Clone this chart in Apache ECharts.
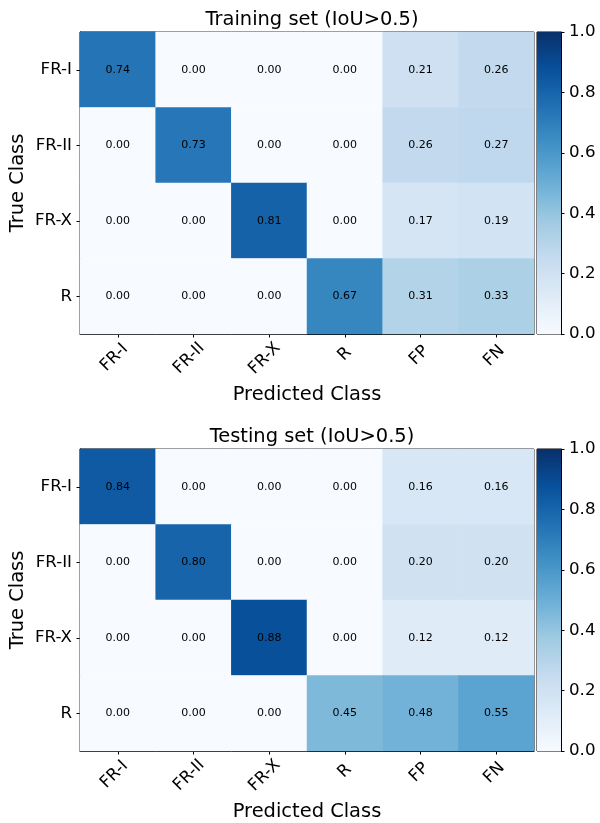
<!DOCTYPE html>
<html>
<head>
<meta charset="utf-8">
<script src="https://cdn.jsdelivr.net/npm/echarts@6/dist/echarts.min.js"></script>
<style>
  html, body { margin: 0; padding: 0; background: #fff; }
  #chart { width: 600px; height: 823px; }
</style>
</head>
<body>
<div id="chart"></div>
<script>
// class names (predicted on x, true on y)
const predClasses = ['FR-I', 'FR-II', 'FR-X', 'R', 'FP', 'FN'];
const trueClasses = ['FR-I', 'FR-II', 'FR-X', 'R'];

// confusion matrices, one row per true class
const trainRows = [
  [0.74, 0.00, 0.00, 0.00, 0.21, 0.26],
  [0.00, 0.73, 0.00, 0.00, 0.26, 0.27],
  [0.00, 0.00, 0.81, 0.00, 0.17, 0.19],
  [0.00, 0.00, 0.00, 0.67, 0.31, 0.33]
];
const testRows = [
  [0.84, 0.00, 0.00, 0.00, 0.16, 0.16],
  [0.00, 0.80, 0.00, 0.00, 0.20, 0.20],
  [0.00, 0.00, 0.88, 0.00, 0.12, 0.12],
  [0.00, 0.00, 0.00, 0.45, 0.48, 0.55]
];

const titles = ['Training set (IoU>0.5)', 'Testing set (IoU>0.5)'];

// matplotlib "Blues"
const blues = ['#f7fbff', '#deebf7', '#c6dbef', '#9ecae1', '#6baed6', '#4292c6', '#2171b5', '#08519c', '#08306b'];

const font = 'DejaVu Sans';
const tickSize = 16.67;
const labelSize = 19.44;

function toCells(rows) {
  let out = [];
  rows.forEach((r, yi) => r.forEach((v, xi) => out.push([xi, yi, v])));
  return out;
}

// rotated x labels: matplotlib centres the rotated box under the tick,
// so push longer labels down with padding (measured on a canvas)
const ctx = document.createElement('canvas').getContext('2d');
ctx.font = tickSize + 'px "' + font + '"';
const widths = predClasses.map(s => ctx.measureText(s).width);
const minW = Math.min(...widths);
const xLabelData = predClasses.map((s, k) => {
  const p = (widths[k] - minW) / 2;
  return { value: s, textStyle: { align: 'center', verticalAlign: 'middle', padding: [p, p, 0, 0] } };
});
const xMargin = 11 + (minW + 14) / 2.83;

const tops = [32, 449];
const plotH = 302;

let grids = [], xAxes = [], yAxes = [], series = [], titleList = [];

tops.forEach((top, i) => {
  // heatmap grid
  grids.push({ left: 80, top: top, width: 454, height: plotH, show: true, borderColor: '#000', borderWidth: 1, outerBoundsMode: 'none', containLabel: false });
  // colorbar grid
  grids.push({ left: 537, top: top, width: 24, height: plotH, show: true, borderColor: '#000', borderWidth: 1, outerBoundsMode: 'none', containLabel: false });

  titleList.push({
    text: titles[i], left: 307, top: top - 27, textAlign: 'center',
    textStyle: { fontFamily: font, fontSize: labelSize, fontWeight: 'normal', color: '#000' }
  });

  xAxes.push({
    type: 'category', gridIndex: i * 2, data: xLabelData,
    name: 'Predicted Class', nameLocation: 'middle', nameGap: 51, nameMoveOverlap: false,
    nameTextStyle: { fontFamily: font, fontSize: labelSize, color: '#000' },
    axisLine: { show: true, lineStyle: { color: '#000', width: 1 } },
    axisTick: { show: true, alignWithLabel: true, length: 3.5, lineStyle: { color: '#000' } },
    axisLabel: {
      interval: 0, rotate: 45,
      fontFamily: font, fontSize: tickSize, color: '#000', margin: xMargin
    },
    splitLine: { show: false }
  });
  yAxes.push({
    type: 'category', gridIndex: i * 2, data: trueClasses, inverse: true,
    name: 'True Class', nameLocation: 'middle', nameGap: 53, nameMoveOverlap: false,
    nameTextStyle: { fontFamily: font, fontSize: labelSize, color: '#000' },
    axisLine: { show: true, lineStyle: { color: '#000', width: 1 } },
    axisTick: { show: true, alignWithLabel: true, length: 3.5, lineStyle: { color: '#000' } },
    axisLabel: { interval: 0, fontFamily: font, fontSize: tickSize, color: '#000', margin: 8 },
    splitLine: { show: false }
  });

  // colorbar axes
  xAxes.push({ type: 'category', gridIndex: i * 2 + 1, data: ['c'], show: false });
  yAxes.push({
    type: 'value', gridIndex: i * 2 + 1, min: 0, max: 1, interval: 0.2, position: 'right',
    axisLine: { show: true, lineStyle: { color: '#000', width: 1 } },
    axisTick: { show: true, length: 3.5, lineStyle: { color: '#000' } },
    axisLabel: { fontFamily: font, fontSize: tickSize, color: '#000', margin: 8, formatter: v => v.toFixed(1) },
    splitLine: { show: false }
  });

  series.push({
    type: 'heatmap', xAxisIndex: i * 2, yAxisIndex: i * 2,
    data: toCells(i === 0 ? trainRows : testRows),
    itemStyle: { borderWidth: 0 },
    label: { show: true, fontFamily: font, fontSize: 11, color: '#000', formatter: p => p.value[2].toFixed(2) },
    emphasis: { disabled: true }
  });
});

const gradStops = blues.map((c, k) => ({ offset: k / (blues.length - 1), color: c }));

[0, 1].forEach(i => {
  series.push({
    type: 'bar', xAxisIndex: i * 2 + 1, yAxisIndex: i * 2 + 1,
    data: [1], barWidth: '100%', silent: true,
    itemStyle: { color: new echarts.graphic.LinearGradient(0, 1, 0, 0, gradStops) }
  });
});

const chart = echarts.init(document.getElementById('chart'), null, { renderer: 'canvas' });
chart.setOption({
  animation: false,
  backgroundColor: '#fff',
  title: titleList,
  grid: grids,
  xAxis: xAxes,
  yAxis: yAxes,
  visualMap: {
    show: false, min: 0, max: 1, seriesIndex: [0, 1],
    inRange: { color: blues }
  },
  series: series
});
</script>
</body>
</html>
